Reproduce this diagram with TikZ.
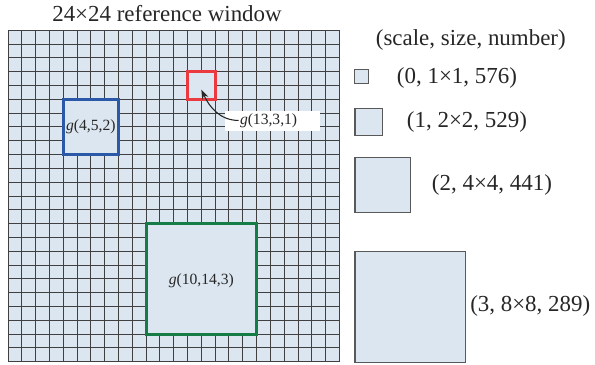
\documentclass[tikz,border=0pt]{standalone}
\usepackage{fontspec}
\setmainfont{Liberation Serif}
\usetikzlibrary{arrows.meta}
\definecolor{cellblue}{RGB}{220,230,240}
\definecolor{gred}{RGB}{234,58,64}
\definecolor{gblue}{RGB}{44,88,168}
\definecolor{ggreen}{RGB}{22,124,70}
\tikzset{
  gridline/.style={draw=black!75,line width=0.75pt},
  gbox/.style={fill=cellblue,line width=2.3pt},
  legbox/.style={fill=cellblue,draw=black!65,line width=0.8pt},
  bigtext/.style={inner sep=0pt,text=black!85,font=\fontsize{17.2}{20}\selectfont},
  glabel/.style={inner sep=0pt,text=black!85,font=\fontsize{11.7}{14}\selectfont}
}
\begin{document}
\begin{tikzpicture}[x=0.75pt,y=-0.75pt]
\def\cs{13.81}
\useasboundingbox (0,0) rectangle (595,364);

% reference window
\node[bigtext] (title) at (167,14) {24×24 reference window};
\fill[cellblue] (8,30.3) rectangle (339.5,361.7);
\foreach \i in {0,...,24} {
  \draw[gridline] (8+\i*\cs,30.3) -- (8+\i*\cs,361.7);
  \draw[gridline] (8,30.3+\i*\cs) -- (339.5,30.3+\i*\cs);
}

% windows g(x,y,scale)
\draw[gbox,draw=gred] (8+13*\cs,30.3+3*\cs) rectangle ++(2*\cs,2*\cs);
\draw[gbox,draw=gblue] (8+4*\cs,30.3+5*\cs) rectangle ++(4*\cs,4*\cs);
\draw[gbox,draw=ggreen] (8+10*\cs,30.3+14*\cs) rectangle ++(8*\cs,8*\cs);
\coordinate (redc) at (8+14*\cs,30.3+4.3*\cs);

\node[glabel] (g452) at (8+6*\cs,30.3+7*\cs) {\textit{g}(4,5,2)};
\node[glabel] (g10143) at (8+14*\cs,30.3+18.1*\cs) {\textit{g}(10,14,3)};
\node[glabel,fill=white,minimum width=95*0.75pt,minimum height=20*0.75pt,
  text width=65*0.75pt,align=left] (g1331) at (272.5,120.7) {\textit{g}(13,3,1)};
\draw[-{Stealth[length=7pt,width=5pt]},line width=0.8pt,black!85]
  ([xshift=-1pt,yshift=3pt]g1331.text) to[out=180,in=-65] (redc);

% legend
\node[bigtext] (hdr) at (470.8,40) {(scale, size, number)};
\draw[legbox] (354.5,69.5) rectangle ++(\cs,\cs);
\draw[legbox] (355,108.3) rectangle ++(2*\cs,2*\cs);
\draw[legbox] (355,157.3) rectangle ++(4*\cs,4*\cs);
\draw[legbox] (355,251.7) rectangle ++(8*\cs,8*\cs);
\node[bigtext,anchor=west] (leg0) at (396.7,78) {(0, 1×1, 576)};
\node[bigtext,anchor=west] (leg1) at (406.7,122) {(1, 2×2, 529)};
\node[bigtext,anchor=west] (leg2) at (431.7,185) {(2, 4×4, 441)};
\node[bigtext,anchor=west] (leg3) at (470,306) {(3, 8×8, 289)};
\end{tikzpicture}
\end{document}
